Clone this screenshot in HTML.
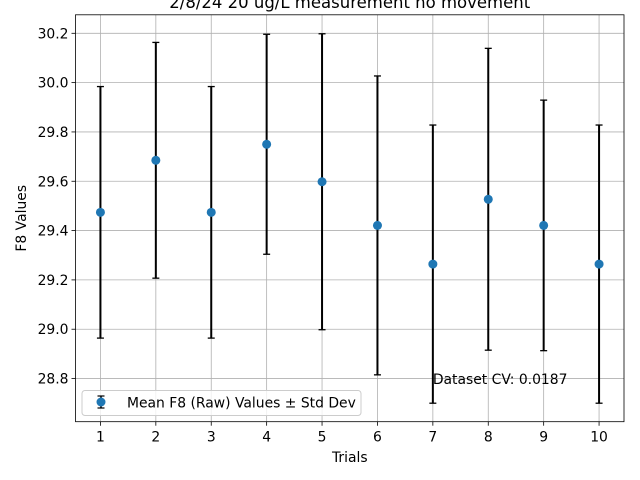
<!DOCTYPE html>
<html><head><meta charset="utf-8"><style>
body{margin:0;background:#fff}
svg{display:block;font-family:"DejaVu Sans","Liberation Sans",sans-serif}
</style></head><body>
<svg id="chart" width="640" height="480"></svg>
<script>
const trials=[1,2,3,4,5,6,7,8,9,10];
const means=[29.474,29.685,29.474,29.75,29.598,29.421,29.264,29.527,29.421,29.264];
const stds=[0.51,0.478,0.51,0.446,0.6,0.606,0.564,0.612,0.508,0.564];
const yTicks=[28.8,29.0,29.2,29.4,29.6,29.8,30.0,30.2];
const yTickLabels=["28.8","29.0","29.2","29.4","29.6","29.8","30.0","30.2"];
const xTickLabels=["1","2","3","4","5","6","7","8","9","10"];
const cvText="Dataset CV: 0.0187";

const L=75.5,R=624,T=14.8,B=421.7;
const xmin=0.55,xmax=10.45,ymin=28.625,ymax=30.275;
const X=v=>L+(v-xmin)/(xmax-xmin)*(R-L);
const Y=v=>B-(v-ymin)/(ymax-ymin)*(B-T);
const svg=document.getElementById('chart');
const NS="http://www.w3.org/2000/svg";
function mk(tag,attrs,parent){const e=document.createElementNS(NS,tag);for(const k in attrs)e.setAttribute(k,attrs[k]);(parent||svg).appendChild(e);return e;}

const grid=mk('g',{});


trials.forEach(t=>{mk('line',{x1:X(t),x2:X(t),y1:T,y2:B,stroke:'#b0b0b0','stroke-width':0.8},grid);});
yTicks.forEach(v=>{mk('line',{x1:L,x2:R,y1:Y(v),y2:Y(v),stroke:'#b0b0b0','stroke-width':0.8},grid);});

const title=mk('text',{x:(L+R)/2,y:8,'text-anchor':'middle','font-size':16.5,fill:'#000'});


title.textContent="2/8/24 20 ug/L measurement no movement";

const ticks=mk('g',{'font-size':13.9});


trials.forEach((t,i)=>{mk('line',{x1:X(t),x2:X(t),y1:B,y2:B+4,stroke:'#000','stroke-width':0.8},ticks);
 const tx=mk('text',{x:X(t),y:B+20,'text-anchor':'middle'},ticks);tx.textContent=xTickLabels[i];});
yTicks.forEach((v,i)=>{mk('line',{x1:L-4,x2:L,y1:Y(v),y2:Y(v),stroke:'#000','stroke-width':0.8},ticks);
 const tx=mk('text',{x:L-7,y:Y(v)+5,'text-anchor':'end'},ticks);tx.textContent=yTickLabels[i];});

const bars=mk('g',{});


trials.forEach((t,i)=>{
 const x=X(t),y1=Y(means[i]+stds[i]),y2=Y(means[i]-stds[i]);
 mk('line',{x1:x,x2:x,y1:y1,y2:y2,stroke:'#000','stroke-width':2},bars);
 mk('line',{x1:x-3.5,x2:x+3.5,y1:y1,y2:y1,stroke:'#000','stroke-width':1.3},bars);
 mk('line',{x1:x-3.5,x2:x+3.5,y1:y2,y2:y2,stroke:'#000','stroke-width':1.3},bars);
});
const pts=mk('g',{});


trials.forEach((t,i)=>{
 const c=mk('circle',{cx:X(t),cy:Y(means[i]),r:4.5,fill:'#1f77b4'},pts);
 
 
});

const frame=mk('rect',{x:L,y:T,width:R-L,height:B-T,fill:'none',stroke:'#000','stroke-width':0.8});



const cv=mk('text',{x:X(7),y:Y(28.78)+0.5,'font-size':13.9});


cv.textContent=cvText;

const xl=mk('text',{x:(L+R)/2,y:462,'text-anchor':'middle','font-size':13.9});


xl.textContent="Trials";
const yl=mk('text',{x:0,y:0,'text-anchor':'middle','font-size':13.9,transform:`translate(26,${(T+B)/2}) rotate(-90)`});


yl.textContent="F8 Values";

const lg=mk('g',{});


mk('rect',{x:82,y:390.5,width:279,height:25,rx:3,fill:'#fff','fill-opacity':0.8,stroke:'#cccccc','stroke-width':1},lg);
mk('line',{x1:101,x2:101,y1:396,y2:408,stroke:'#000','stroke-width':1.5},lg);
mk('line',{x1:97.5,x2:104.5,y1:396,y2:396,stroke:'#000','stroke-width':1.2},lg);
mk('line',{x1:97.5,x2:104.5,y1:408,y2:408,stroke:'#000','stroke-width':1.2},lg);
mk('circle',{cx:101,cy:402,r:4.5,fill:'#1f77b4'},lg);
const lt=mk('text',{x:127,y:407.5,'font-size':13.9},lg);


lt.textContent="Mean F8 (Raw) Values ± Std Dev";
</script>
</body></html>
